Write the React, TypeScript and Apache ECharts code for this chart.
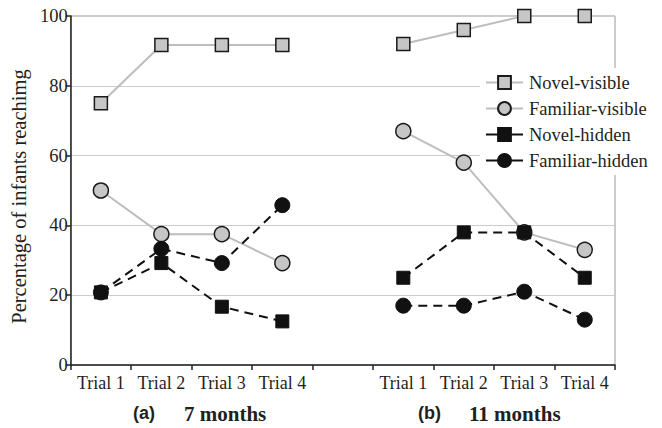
import React, { useEffect, useRef } from "react";
import * as echarts from "echarts";

const categoryKeys = ["a1", "a2", "a3", "a4", "gap", "b1", "b2", "b3", "b4"];
const trialLabels = ["Trial 1", "Trial 2", "Trial 3", "Trial 4", "", "Trial 1", "Trial 2", "Trial 3", "Trial 4"];
const yTicks = [0, 20, 40, 60, 80, 100];

const novelVisible = [75, 91.7, 91.7, 91.7, null, 92, 96, 100, 100];
const familiarVisible = [50, 37.5, 37.5, 29.2, null, 67, 58, 38, 33];
const novelHidden = [20.8, 29.2, 16.7, 12.5, null, 25, 38, 38, 25];
const familiarHidden = [20.8, 33.3, 29.2, 45.8, null, 17, 17, 21, 13];

const seriesNames = ["Novel-visible", "Familiar-visible", "Novel-hidden", "Familiar-hidden"];
const panelTitles = [
  { tag: "(a)", text: "7 months" },
  { tag: "(b)", text: "11 months" },
];

const SERIF = "'Liberation Serif', 'DejaVu Serif', serif";
const SANS = "'Liberation Sans', Arial, sans-serif";
const INK = "#231f20";

export default function App() {
  const ref = useRef<HTMLDivElement>(null);
  useEffect(() => {
    if (!ref.current) return;
    const chart = echarts.init(ref.current, null, { renderer: "svg" });
    const clean = (arr: (number | null)[]) => arr.map((v) => (v === null ? "-" : v));

    const visibleLine = { color: "#bdbdbd", width: 2, type: "solid" as const };
    const hiddenLine = { color: "#111", width: 2, type: [9, 6] as any };
    const grayItem = { color: "#c6c6c6", borderColor: "#1a1a1a", borderWidth: 1.5 };
    const blackItem = { color: "#111", borderColor: "#111", borderWidth: 1 };

    const mk = (name: string, data: (number | null)[], symbol: string, size: number, line: any, item: any) => ({
      name,
      type: "line",
      data: clean(data),
      symbol,
      symbolSize: size,
      connectNulls: false,
      clip: false,
      lineStyle: line,
      itemStyle: item,
      emphasis: { disabled: true },
    });

    chart.setOption({
      animation: false,
      textStyle: { fontFamily: SERIF, color: INK },
      grid: {
        left: 63,
        right: 47,
        top: 16,
        bottom: 63,
        show: true,
        borderColor: "#999",
        borderWidth: 1,
        backgroundColor: "transparent",
      },
      legend: {
        data: seriesNames,
        orient: "vertical",
        left: 480,
        top: 68,
        itemWidth: 37,
        itemHeight: 16,
        itemGap: 7,
        padding: [5, 5, 5, 5],
        backgroundColor: "#fff",
        lineStyle: { type: "solid" },
        textStyle: { fontFamily: SERIF, fontSize: 18.5, color: INK, padding: [0, 0, 0, 1] },
      },
      xAxis: {
        type: "category",
        data: categoryKeys,
        boundaryGap: true,
        axisLine: { show: true, lineStyle: { color: "#222", width: 1.5 } },
        axisTick: { show: true, interval: 0, length: 5, inside: false, lineStyle: { color: "#222", width: 1.5 } },
        axisLabel: {
          interval: 0,
          margin: 9,
          fontFamily: SERIF,
          fontSize: 18,
          color: INK,
          formatter: (_v: string, i: number) => trialLabels[i],
        },
        splitLine: { show: false },
      },
      yAxis: {
        type: "value",
        min: yTicks[0],
        max: yTicks[yTicks.length - 1],
        interval: 20,
        name: "Percentage of infants reachimg",
        nameLocation: "middle",
        nameGap: 31,
        nameTextStyle: { fontFamily: SERIF, fontSize: 20.5, color: INK, padding: [0, 12, 0, 0] },
        axisLine: { show: true, lineStyle: { color: "#222", width: 1.5 } },
        axisTick: { show: true, length: 5, lineStyle: { color: "#222", width: 1.5 } },
        axisLabel: { margin: 3, fontFamily: SERIF, fontSize: 18.5, color: INK },
        splitLine: { show: true, lineStyle: { color: "#cccccc", width: 1.2 } },
      },
      graphic: [
        { type: "text", left: 133, top: 404, style: { text: panelTitles[0].tag, font: `bold 18px ${SANS}`, fill: INK } },
        { type: "text", left: 184, top: 403, style: { text: panelTitles[0].text, font: `bold 21px ${SERIF}`, fill: INK } },
        { type: "text", left: 418, top: 404, style: { text: panelTitles[1].tag, font: `bold 18px ${SANS}`, fill: INK } },
        { type: "text", left: 469, top: 403, style: { text: panelTitles[1].text, font: `bold 21px ${SERIF}`, fill: INK } },
      ],
      series: [
        mk(seriesNames[0], novelVisible, "rect", 13, visibleLine, grayItem),
        mk(seriesNames[1], familiarVisible, "circle", 15, visibleLine, grayItem),
        mk(seriesNames[2], novelHidden, "rect", 13, hiddenLine, blackItem),
        mk(seriesNames[3], familiarHidden, "circle", 15, hiddenLine, blackItem),
      ],
    });
    return () => chart.dispose();
  }, []);

  return (
    <div
      ref={ref}
      style={{ position: "fixed", left: 0, top: 0, width: 662, height: 428, background: "#fff" }}
    />
  );
}
